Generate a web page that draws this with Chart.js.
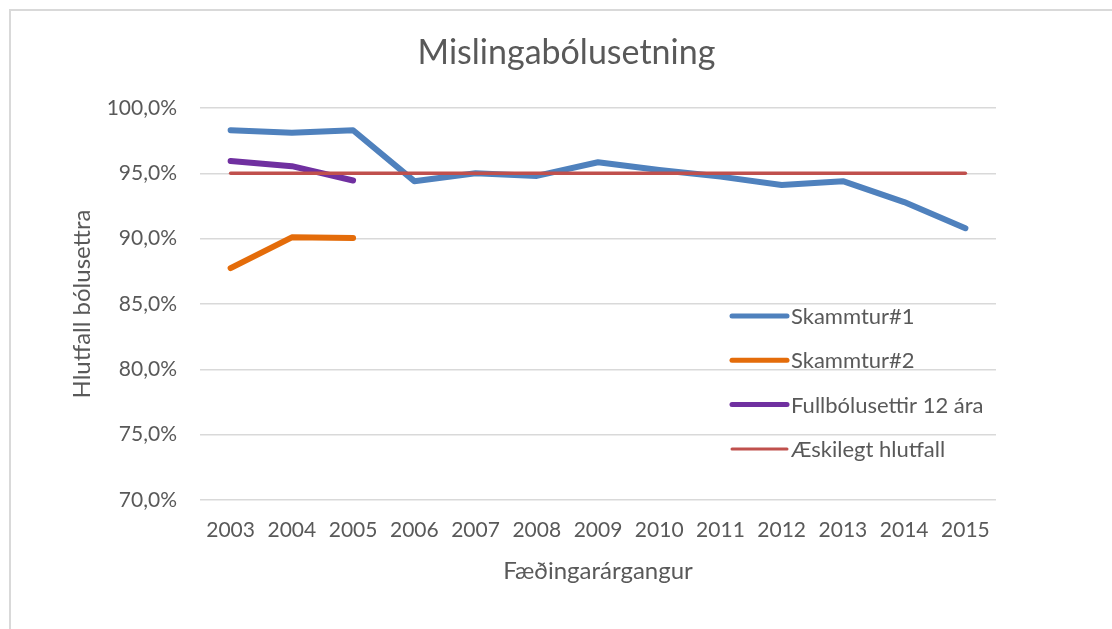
<!DOCTYPE html>
<html>
<head>
<meta charset="utf-8">
<title>Mislingabólusetning</title>
<script src="https://cdn.jsdelivr.net/npm/chart.js@4.4.0/dist/chart.umd.min.js"></script>
<style>
    html, body { margin: 0; padding: 0; background: #fff; }
    body { width: 1112px; height: 629px; position: relative; overflow: hidden; }
    #frame {
        position: absolute; left: 9px; top: 9px; width: 1200px; height: 700px;
        border-top: 2px solid #d9d9d9; border-left: 2px solid #d9d9d9;
    }
    #chart { position: absolute; left: 21px; top: 0; }
</style>
</head>
<body>
<div id="frame"></div>
<canvas id="chart" width="1091" height="629"></canvas>
<script>
// Data
const years = ['2003', '2004', '2005', '2006', '2007', '2008', '2009', '2010', '2011', '2012', '2013', '2014', '2015'];
const dose1 = [98.3, 98.1, 98.3, 94.4, 95.0, 94.8, 95.85, 95.25, 94.75, 94.1, 94.4, 92.8, 90.8];
const dose2 = [87.75, 90.1, 90.05, null, null, null, null, null, null, null, null, null, null];
const full12 = [95.95, 95.55, 94.45, null, null, null, null, null, null, null, null, null, null];
const target = [95, 95, 95, 95, 95, 95, 95, 95, 95, 95, 95, 95, 95];
const seriesNames = ['Skammtur#1', 'Skammtur#2', 'Fullbólusettir 12 ára', 'Æskilegt hlutfall'];

const textColor = '#595959';
Chart.defaults.font.family = 'Lato, "Open Sans", sans-serif';
Chart.defaults.color = textColor;

// Legend drawn inside the plot area, like the original
const insideLegend = {
    id: 'insideLegend',
    afterDraw(chart, args, opts) {
        const ctx = chart.ctx;
        ctx.save();
        ctx.font = `${opts.fontSize}px ${Chart.defaults.font.family}`;
        ctx.textBaseline = 'middle';
        ctx.textAlign = 'left';
        chart.data.datasets.forEach((ds, i) => {
            const y = opts.y + i * opts.rowGap;
            ctx.strokeStyle = ds.borderColor;
            ctx.lineWidth = ds.legendWidth;
            ctx.lineCap = 'round';
            ctx.beginPath();
            ctx.moveTo(opts.x, y);
            ctx.lineTo(opts.x + opts.lineLength, y);
            ctx.stroke();
            ctx.fillStyle = textColor;
            ctx.fillText(ds.label, opts.x + opts.lineLength + 4, y + 1);
        });
        ctx.restore();
    }
};

function lineSet(label, data, color, width, order, legendWidth) {
    return {
        label: label,
        data: data,
        borderColor: color,
        backgroundColor: color,
        borderWidth: width,
        legendWidth: legendWidth,
        borderCapStyle: 'round',
        borderJoinStyle: 'round',
        pointRadius: 0,
        pointHoverRadius: 0,
        tension: 0,
        fill: false,
        spanGaps: false,
        order: order
    };
}

new Chart(document.getElementById('chart'), {
    type: 'line',
    data: {
        labels: years,
        datasets: [
            lineSet(seriesNames[0], dose1, '#4f81bd', 6, 4, 5),
            lineSet(seriesNames[1], dose2, '#e46c0a', 6, 3, 5),
            lineSet(seriesNames[2], full12, '#7030a0', 6, 2, 5),
            lineSet(seriesNames[3], target, '#c0504d', 3.5, 1, 3)
        ]
    },
    options: {
        responsive: false,
        animation: false,
        layout: { padding: { left: 0, right: 0, top: 0, bottom: 29 } },
        plugins: {
            legend: { display: false },
            tooltip: { enabled: false },
            title: {
                display: true,
                text: 'Mislingabólusetning',
                color: textColor,
                font: { size: 34, weight: 'normal', lineHeight: 1.2 },
                padding: { top: 32.6, bottom: 34.6 }
            },
            insideLegend: { x: 711, y: 316, rowGap: 44.3, lineLength: 55, fontSize: 22 }
        },
        scales: {
            x: {
                offset: true,
                grid: { display: false, drawTicks: false },
                border: { display: false },
                ticks: { color: textColor, font: { size: 21 }, padding: 18, autoSkip: false, maxRotation: 0 },
                title: {
                    display: true,
                    text: 'Fæðingarárgangur',
                    color: textColor,
                    font: { size: 24, lineHeight: 1.2 },
                    padding: { top: 0, bottom: 14.6 }
                },
                afterFit(scale) { scale.height = 100; }
            },
            y: {
                min: 70,
                max: 100,
                grid: { color: '#d9d9d9', lineWidth: 1.5, drawTicks: false },
                border: { display: false },
                ticks: {
                    stepSize: 5,
                    padding: 23,
                    color: textColor,
                    font: { size: 21 },
                    callback: v => v.toFixed(1).replace('.', ',') + '%'
                },
                title: {
                    display: true,
                    text: 'Hlutfall bólusettra',
                    color: textColor,
                    font: { size: 24, lineHeight: 1.2 },
                    padding: { top: 46.6, bottom: 0 }
                },
                afterFit(scale) { scale.width = 179; }
            },
            // empty right axis: keeps the right margin without moving the centred title
            yRight: {
                position: 'right',
                display: true,
                grid: { display: false, drawTicks: false },
                border: { display: false },
                ticks: { display: false },
                afterFit(scale) { scale.width = 116; }
            }
        }
    },
    plugins: [insideLegend]
});
</script>
</body>
</html>
